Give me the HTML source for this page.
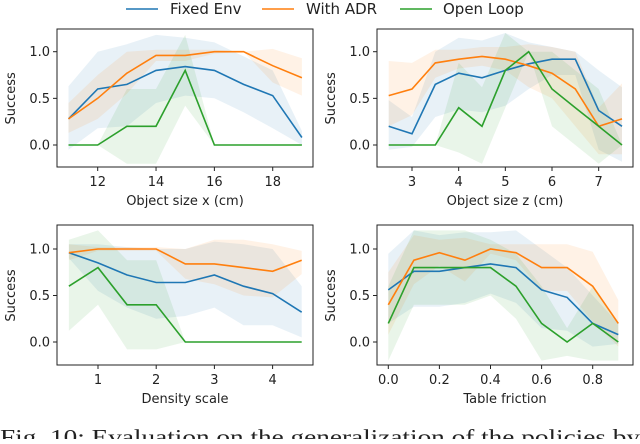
<!DOCTYPE html>
<html><head><meta charset="utf-8"><style>
body{margin:0;background:#fff;width:640px;height:439px;overflow:hidden}
svg text{font-family:"DejaVu Sans","Liberation Sans",sans-serif;fill:#222}
</style></head><body>
<svg id="fig" width="640" height="439" viewBox="0 0 640 439" xmlns="http://www.w3.org/2000/svg">
<g>
<line x1="126" y1="9" x2="158" y2="9" stroke="#1f77b4" stroke-width="1.6"/><text x="170" y="14" font-size="15">Fixed Env</text>
<line x1="262" y1="9" x2="294" y2="9" stroke="#ff7f0e" stroke-width="1.6"/><text x="306" y="14" font-size="15">With ADR</text>
<line x1="400" y1="9" x2="432" y2="9" stroke="#2ca02c" stroke-width="1.6"/><text x="443" y="14" font-size="15">Open Loop</text>
</g>
<text x="0" y="444" font-size="21" textLength="640" lengthAdjust="spacingAndGlyphs" style="font-family:'Liberation Serif',serif">Fig. 10: Evaluation on the generalization of the policies by</text>
</svg>
<script>
// Top-left: Object size x
const xA=[11,12,13,14,15,16,17,18,19];
const fixA=[0.28,0.6,0.65,0.8,0.84,0.8,0.65,0.53,0.08];
const fixAu=[0.63,1.0,1.08,1.18,1.15,1.1,0.95,0.8,0.15];
const fixAl=[-0.05,0.18,0.2,0.45,0.53,0.5,0.35,0.18,0.0];
const adrA=[0.28,0.5,0.77,0.96,0.96,1.0,1.0,0.85,0.72];
const adrAu=[0.45,0.75,1.0,1.02,1.02,1.02,1.0,1.03,0.93];
const adrAl=[0.13,0.28,0.55,0.9,0.9,0.98,1.0,0.67,0.53];
const olA=[0,0,0.2,0.2,0.8,0,0,0,0];
const olAu=[0,0,0.6,0.6,1.18,0,0,0,0];
const olAl=[0,0,-0.2,-0.2,0.42,0,0,0,0];
const ticksA=[12,14,16,18];
// Top-right: Object size z
const xB=[2.5,3,3.5,4,4.5,5,5.5,6,6.5,7,7.5];
const fixB=[0.2,0.12,0.65,0.77,0.72,0.8,0.87,0.92,0.92,0.37,0.2];
const fixBu=[0.48,0.3,1.0,1.15,1.12,1.2,1.1,1.05,1.0,0.8,0.62];
const fixBl=[-0.05,-0.02,0.3,0.38,0.35,0.42,0.6,0.75,0.75,-0.05,-0.18];
const adrB=[0.53,0.6,0.88,0.92,0.95,0.92,0.85,0.77,0.6,0.2,0.28];
const adrBu=[0.9,0.88,1.02,1.02,1.05,1.05,1.08,1.05,1.0,0.4,0.66];
const adrBl=[0.2,0.32,0.72,0.82,0.85,0.8,0.62,0.5,0.2,-0.1,-0.1];
const olB=[0,0,0,0.4,0.2,0.8,1.0,0.6,0.4,0.2,0];
const olBu=[0,0,0,0.88,0.62,1.2,1.0,1.0,0.8,0.6,0];
const olBl=[0,0,0,-0.08,-0.2,0.4,1.0,0.2,0.0,-0.2,0];
const ticksB=[3,4,5,6,7];
// Bottom-left: Density scale
const xC=[0.5,1,1.5,2,2.5,3,3.5,4,4.5];
const fixC=[0.96,0.85,0.72,0.64,0.64,0.72,0.6,0.52,0.32];
const fixCu=[1.05,1.05,1.02,1.0,1.0,1.08,1.05,1.0,0.6];
const fixCl=[0.9,0.55,0.37,0.25,0.28,0.37,0.18,0.18,0.05];
const adrC=[0.96,1.0,1.0,1.0,0.84,0.84,0.8,0.76,0.88];
const adrCu=[1.05,1.02,1.02,1.02,1.0,1.1,1.1,1.05,0.98];
const adrCl=[0.88,0.98,0.98,0.98,0.68,0.62,0.5,0.48,0.73];
const olC=[0.6,0.8,0.4,0.4,0,0,0,0,0];
const olCu=[1.1,1.2,0.88,0.88,0,0,0,0,0];
const olCl=[0.12,0.4,-0.08,-0.08,0,0,0,0,0];
const ticksC=[1,2,3,4];
// Bottom-right: Table friction
const xD=[0,0.1,0.2,0.3,0.4,0.5,0.6,0.7,0.8,0.9];
const fixD=[0.56,0.76,0.76,0.8,0.84,0.8,0.56,0.48,0.2,0.08];
const fixDu=[0.95,1.2,1.15,1.18,1.18,1.2,1.0,0.8,0.5,0.2];
const fixDl=[0.2,0.38,0.38,0.42,0.52,0.42,0.15,0.12,-0.05,-0.02];
const adrD=[0.4,0.88,0.96,0.88,1.0,0.96,0.8,0.8,0.6,0.2];
const adrDu=[0.75,1.15,1.1,1.12,1.05,1.05,1.05,1.05,0.97,0.45];
const adrDl=[0.08,0.62,0.82,0.65,0.95,0.88,0.55,0.55,0.22,-0.05];
const olD=[0.2,0.8,0.8,0.8,0.8,0.6,0.2,0,0.2,0];
const olDu=[0.6,1.2,1.2,1.2,1.1,0.95,0.6,0.15,0.6,0.2];
const olDl=[-0.2,0.4,0.4,0.4,0.5,0.25,-0.2,-0.15,-0.2,-0.2];
const ticksD=[0,0.2,0.4,0.6,0.8];
const yTicks=[0,0.5,1.0];

const NS='http://www.w3.org/2000/svg';
const svg=document.getElementById('fig');
function mk(t,a,p){const e=document.createElementNS(NS,t);for(const k in a)e.setAttribute(k,a[k]);(p||svg).appendChild(e);return e;}
const cols=['#1f77b4','#ff7f0e','#2ca02c'];
function panel(cfg){
  const g=mk('g',{});
  
  
  const sx=v=>cfg.px0+(v-cfg.vx0)*cfg.kx;
  const sy=v=>cfg.py0-v*cfg.ky;
  const series=[[cfg.fix,cfg.fixu,cfg.fixl],[cfg.adr,cfg.adru,cfg.adrl],[cfg.ol,cfg.olu,cfg.oll]];
  const names=['fixed-env','with-adr','open-loop'];
  series.forEach((s,i)=>{
    let d='';cfg.x.forEach((x,j)=>{d+=(j?'L':'M')+sx(x).toFixed(1)+','+sy(s[1][j]).toFixed(1);});
    for(let j=cfg.x.length-1;j>=0;j--)d+='L'+sx(cfg.x[j]).toFixed(1)+','+sy(s[2][j]).toFixed(1);
    const b=mk('path',{d:d+'Z',fill:cols[i],'fill-opacity':0.1,stroke:'none'},g);
    
    
  });
  series.forEach((s,i)=>{
    const pts=cfg.x.map((x,j)=>sx(x).toFixed(1)+','+sy(s[0][j]).toFixed(1)).join(' ');
    const l=mk('polyline',{points:pts,fill:'none',stroke:cols[i],'stroke-width':1.6},g);
    
    
  });
  const fr=mk('rect',{x:cfg.fl,y:cfg.ft,width:cfg.fr-cfg.fl,height:cfg.fb-cfg.ft,fill:'none',stroke:'#222','stroke-width':1},g);
  
  
  yTicks.forEach(v=>{
    const y=sy(v);
    mk('line',{x1:cfg.fl-4,y1:y,x2:cfg.fl,y2:y,stroke:'#222'},g);
    const t=mk('text',{x:cfg.fl-7,y:y+4.5,'font-size':13,'text-anchor':'end'},g);
    t.textContent=v.toFixed(1);
    
    
  });
  cfg.ticks.forEach(v=>{
    const x=sx(v);
    mk('line',{x1:x,y1:cfg.fb,x2:x,y2:cfg.fb+4,stroke:'#222'},g);
    const t=mk('text',{x:x,y:cfg.fb+19,'font-size':13,'text-anchor':'middle'},g);
    t.textContent=cfg.tickFmt(v);
    
    
  });
  const xl=mk('text',{x:(cfg.fl+cfg.fr)/2,y:cfg.fb+38,'font-size':13,'text-anchor':'middle'},g);
  xl.textContent=cfg.xlabel;
  
  
  const cy=(sy(0)+sy(1))/2;
  const yl=mk('text',{x:0,y:0,'font-size':13,'text-anchor':'middle',transform:'translate('+(cfg.fl-42)+','+cy+') rotate(-90)'},g);
  yl.textContent='Success';
  
  
}
const topCfg={ft:29,fb:167,py0:145,ky:93.3};
const botCfg={ft:225,fb:365,py0:342,ky:93};
panel(Object.assign({name:'panel-object-size-x',x:xA,fix:fixA,fixu:fixAu,fixl:fixAl,adr:adrA,adru:adrAu,adrl:adrAl,ol:olA,olu:olAu,oll:olAl,ticks:ticksA,tickFmt:v=>String(v),xlabel:'Object size x (cm)',fl:57,fr:313,px0:97.7,vx0:12,kx:29.17},topCfg));
panel(Object.assign({name:'panel-object-size-z',x:xB,fix:fixB,fixu:fixBu,fixl:fixBl,adr:adrB,adru:adrBu,adrl:adrBl,ol:olB,olu:olBu,oll:olBl,ticks:ticksB,tickFmt:v=>String(v),xlabel:'Object size z (cm)',fl:377,fr:633,px0:412,vx0:3,kx:46.67},topCfg));
panel(Object.assign({name:'panel-density-scale',x:xC,fix:fixC,fixu:fixCu,fixl:fixCl,adr:adrC,adru:adrCu,adrl:adrCl,ol:olC,olu:olCu,oll:olCl,ticks:ticksC,tickFmt:v=>String(v),xlabel:'Density scale',fl:57,fr:313,px0:98,vx0:1,kx:58.2},botCfg));
panel(Object.assign({name:'panel-table-friction',x:xD,fix:fixD,fixu:fixDu,fixl:fixDl,adr:adrD,adru:adrDu,adrl:adrDl,ol:olD,olu:olDu,oll:olDl,ticks:ticksD,tickFmt:v=>v.toFixed(1),xlabel:'Table friction',fl:377,fr:633,px0:388.3,vx0:0,kx:255.5},botCfg));
</script>
</body></html>
